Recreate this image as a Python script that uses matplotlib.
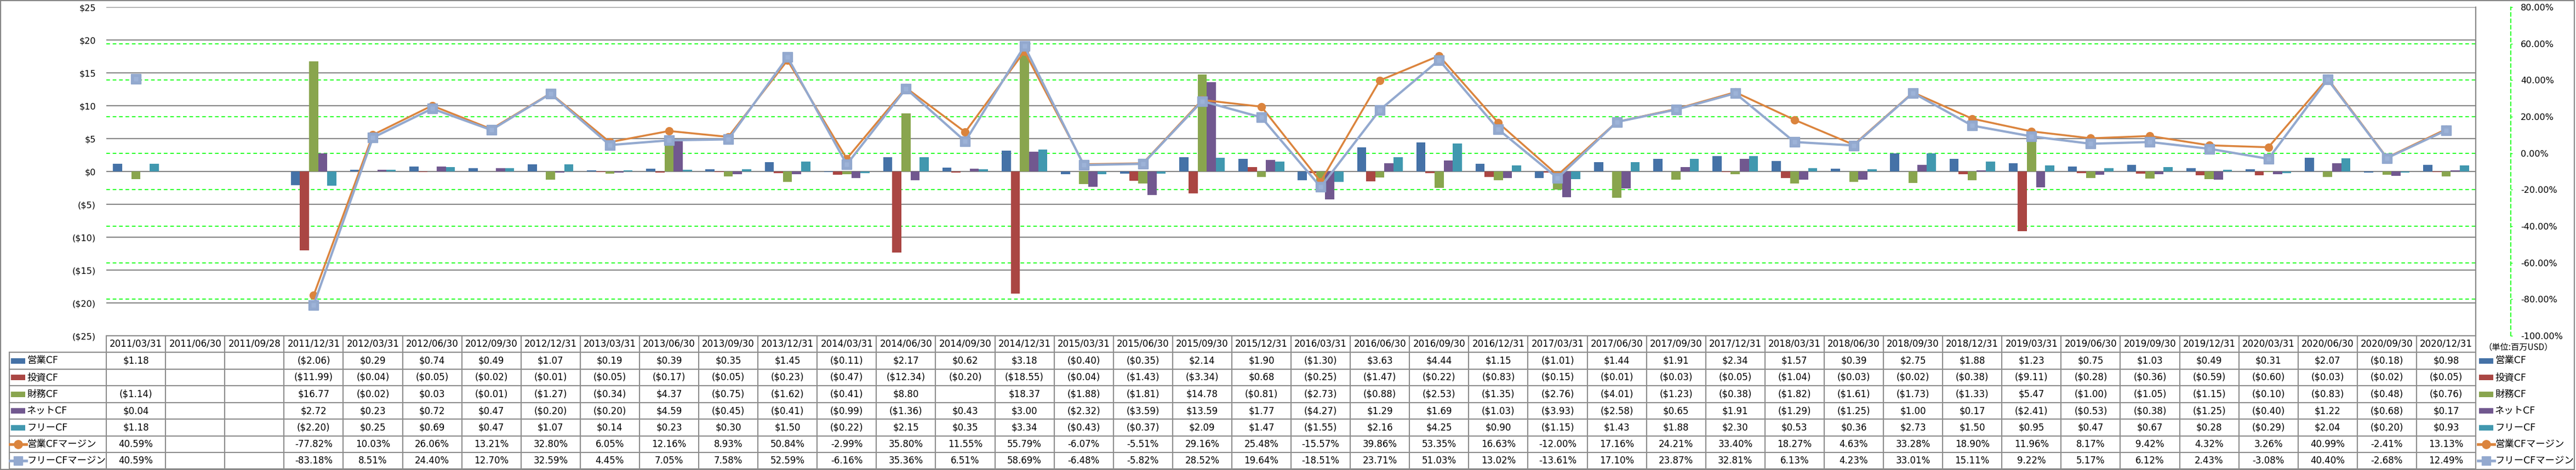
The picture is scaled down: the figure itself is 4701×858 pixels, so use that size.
import numpy as np
import matplotlib
matplotlib.use('Agg')
import matplotlib.pyplot as plt
import matplotlib.transforms as mtransforms
from matplotlib.lines import Line2D
from matplotlib.patches import Rectangle

plt.rcParams['font.family'] = ['DejaVu Sans', 'Noto Sans CJK JP']

nan = np.nan

# quarter-end dates (table header)
dates = ['2011/03/31', '2011/06/30', '2011/09/28', '2011/12/31', '2012/03/31', '2012/06/30',
         '2012/09/30', '2012/12/31', '2013/03/31', '2013/06/30', '2013/09/30', '2013/12/31',
         '2014/03/31', '2014/06/30', '2014/09/30', '2014/12/31', '2015/03/31', '2015/06/30',
         '2015/09/30', '2015/12/31', '2016/03/31', '2016/06/30', '2016/09/30', '2016/12/31',
         '2017/03/31', '2017/06/30', '2017/09/30', '2017/12/31', '2018/03/31', '2018/06/30',
         '2018/09/30', '2018/12/31', '2019/03/31', '2019/06/30', '2019/09/30', '2019/12/31',
         '2020/03/31', '2020/06/30', '2020/09/30', '2020/12/31']

# cash flows, millions USD
op_cf = [1.18, nan, nan, -2.06, 0.29, 0.74, 0.49, 1.07, 0.19, 0.39, 0.35, 1.45, -0.11, 2.17,
         0.62, 3.18, -0.40, -0.35, 2.14, 1.90, -1.30, 3.63, 4.44, 1.15, -1.01, 1.44, 1.91, 2.34,
         1.57, 0.39, 2.75, 1.88, 1.23, 0.75, 1.03, 0.49, 0.31, 2.07, -0.18, 0.98]
inv_cf = [nan, nan, nan, -11.99, -0.04, -0.05, -0.02, -0.01, -0.05, -0.17, -0.05, -0.23, -0.47,
          -12.34, -0.20, -18.55, -0.04, -1.43, -3.34, 0.68, -0.25, -1.47, -0.22, -0.83, -0.15,
          -0.01, -0.03, -0.05, -1.04, -0.03, -0.02, -0.38, -9.11, -0.28, -0.36, -0.59, -0.60,
          -0.03, -0.02, -0.05]
fin_cf = [-1.14, nan, nan, 16.77, -0.02, 0.03, -0.01, -1.27, -0.34, 4.37, -0.75, -1.62, -0.41,
          8.80, nan, 18.37, -1.88, -1.81, 14.78, -0.81, -2.73, -0.88, -2.53, -1.35, -2.76, -4.01,
          -1.23, -0.38, -1.82, -1.61, -1.73, -1.33, 5.47, -1.00, -1.05, -1.15, -0.10, -0.83,
          -0.48, -0.76]
net_cf = [0.04, nan, nan, 2.72, 0.23, 0.72, 0.47, -0.20, -0.20, 4.59, -0.45, -0.41, -0.99,
          -1.36, 0.43, 3.00, -2.32, -3.59, 13.59, 1.77, -4.27, 1.29, 1.69, -1.03, -3.93, -2.58,
          0.65, 1.91, -1.29, -1.25, 1.00, 0.17, -2.41, -0.53, -0.38, -1.25, -0.40, 1.22, -0.68,
          0.17]
free_cf = [1.18, nan, nan, -2.20, 0.25, 0.69, 0.47, 1.07, 0.14, 0.23, 0.30, 1.50, -0.22, 2.15,
           0.35, 3.34, -0.43, -0.37, 2.09, 1.47, -1.55, 2.16, 4.25, 0.90, -1.15, 1.43, 1.88, 2.30,
           0.53, 0.36, 2.73, 1.50, 0.95, 0.47, 0.67, 0.28, -0.29, 2.04, -0.20, 0.93]

# margins, %
op_margin = [40.59, nan, nan, -77.82, 10.03, 26.06, 13.21, 32.80, 6.05, 12.16, 8.93, 50.84,
             -2.99, 35.80, 11.55, 55.79, -6.07, -5.51, 29.16, 25.48, -15.57, 39.86, 53.35, 16.63,
             -12.00, 17.16, 24.21, 33.40, 18.27, 4.63, 33.28, 18.90, 11.96, 8.17, 9.42, 4.32,
             3.26, 40.99, -2.41, 13.13]
free_margin = [40.59, nan, nan, -83.18, 8.51, 24.40, 12.70, 32.59, 4.45, 7.05, 7.58, 52.59,
               -6.16, 35.36, 6.51, 58.69, -6.48, -5.82, 28.52, 19.64, -18.51, 23.71, 51.03, 13.02,
               -13.61, 17.10, 23.87, 32.81, 6.13, 4.23, 33.01, 15.11, 9.22, 5.17, 6.12, 2.43,
               -3.08, 40.40, -2.68, 12.49]

bar_names = ['営業CF', '投資CF', '財務CF', 'ネットCF', 'フリーCF']
bar_series = [op_cf, inv_cf, fin_cf, net_cf, free_cf]
bar_colors = ['#4572A7', '#AA4643', '#89A54E', '#71588F', '#4198AF']
line_names = ['営業CFマージン', 'フリーCFマージン']
line_series = [op_margin, free_margin]

usd_ticks = list(range(-25, 26, 5))
pct_ticks = list(range(-100, 81, 20))

W, H = 4701, 858
GRID = '#868686'
LIME = '#00FF00'


def fx(px):
    return px / W


def fy(py):
    return 1 - py / H


def fmt_usd(v):
    if np.isnan(v):
        return ''
    return f'${v:.2f}' if v >= 0 else f'(${-v:.2f})'


def fmt_pct(v):
    if np.isnan(v):
        return ''
    return f'{v:.2f}%'


fig = plt.figure(figsize=(W / 100, H / 100), dpi=100)
fig.patch.set_facecolor('white')

# plot area in pixels
L, R, T, B = 194, 4518, 13, 613
rect = [fx(L), fy(B), fx(R - L), (B - T) / H]

# background axis only for the green % gridlines (so bars sit above them)
ax_bg = fig.add_axes(rect, zorder=0)
ax_bg.set_xlim(-0.5, 39.5)
ax_bg.set_ylim(-100, 80)
ax_bg.set_yticks(pct_ticks[1:-1])
ax_bg.grid(axis='y', color=LIME, linestyle=(0, (4, 3)), linewidth=1.2)
ax_bg.tick_params(left=False, bottom=False, labelleft=False, labelbottom=False)
for s in ax_bg.spines.values():
    s.set_visible(False)

# bars on the USD axis
ax = fig.add_axes(rect, zorder=1)
ax.patch.set_visible(False)
x = np.arange(len(dates))
bw = 0.154
for k, (vals, color) in enumerate(zip(bar_series, bar_colors)):
    ax.bar(x + (k - 2) * bw, np.array(vals, dtype=float), width=bw, color=color, linewidth=0)

ax.set_xlim(-0.5, len(dates) - 0.5)
ax.set_ylim(-25, 25)
ax.set_axisbelow(True)
ax.grid(axis='y', color=GRID, linewidth=1.5)
ax.set_xticks([])
ax.yaxis.tick_right()
ax.set_yticks(usd_ticks, labels=[f'${v}' if v >= 0 else f'(${-v})' for v in usd_ticks])
ax.tick_params(axis='y', length=0, pad=13.7, labelsize=11.5)
for lab, v in zip(ax.get_yticklabels(), usd_ticks):
    lab.set_color('black' if v >= 0 else 'red')
for name, s in ax.spines.items():
    s.set_visible(name == 'right')
ax.spines['right'].set_color(GRID)
ax.spines['right'].set_linewidth(1.5)

# margin lines on the % axis
ax2 = ax.twinx()
ax2.set_zorder(2)
ax2.patch.set_visible(False)
ax2.plot(x, np.array(op_margin, dtype=float), color='#DB843D', lw=2.5,
         marker='o', ms=10, mfc='#DB843D', mec='#DB843D')
ax2.plot(x, np.array(free_margin, dtype=float), color='#93A9CF', lw=3,
         marker='s', ms=12.5, mfc='#93A9CF', mec='#8EA5CC')
ax2.plot(x, np.array(free_margin, dtype=float), ls='none',
         marker='s', ms=6, mfc='#9DB3D8', mec='none')
ax2.set_ylim(-100, 80)
ax2.set_xlim(-0.5, len(dates) - 0.5)
ax2.set_yticks(pct_ticks, labels=[f'{v:.2f}%' for v in pct_ticks])
for lab, v in zip(ax2.get_yticklabels(), pct_ticks):
    lab.set_color('black' if v >= 0 else 'red')
for name, s in ax2.spines.items():
    s.set_visible(name == 'right')
ax2.spines['right'].set_position(('axes', (4582 - L) / (R - L)))
ax2.spines['right'].set_color(LIME)
ax2.spines['right'].set_linestyle((0, (4, 3)))
ax2.spines['right'].set_linewidth(1.2)
ax2.tick_params(axis='y', direction='out', length=2.2, width=1, color=LIME,
                pad=10.8, labelsize=11.5)

# ---- data table below the chart ----
trans = mtransforms.blended_transform_factory(ax.transData, fig.transFigure)
row_edges = [613, 643, 674, 704, 735, 765, 796, 826, 856]
TBL = '#8C8C8C'

fig.add_artist(Line2D([fx(L), fx(R)], [fy(613), fy(613)], transform=fig.transFigure,
                      color=TBL, lw=1.5))
for yy in row_edges[1:]:
    fig.add_artist(Line2D([fx(17), fx(R)], [fy(yy), fy(yy)], transform=fig.transFigure,
                          color=TBL, lw=1.5))
fig.add_artist(Line2D([fx(17), fx(17)], [fy(643), fy(856)], transform=fig.transFigure,
                      color=TBL, lw=1.5))
for i in range(len(dates) + 1):
    fig.add_artist(Line2D([i - 0.5, i - 0.5], [fy(613), fy(856)], transform=trans,
                          color=TBL, lw=1.5))

centers = [(row_edges[j] + row_edges[j + 1]) / 2 for j in range(len(row_edges) - 1)]
for i, d in enumerate(dates):
    fig.text(i, fy(centers[0]), d, transform=trans, ha='center', va='center', fontsize=12)

table_rows = [[fmt_usd(v) for v in s] for s in bar_series] + \
             [[fmt_pct(v) for v in s] for s in line_series]
for j, row in enumerate(table_rows):
    for i, txt in enumerate(row):
        if txt:
            fig.text(i, fy(centers[j + 1]), txt, transform=trans, ha='center', va='center',
                     fontsize=12)


def legend_key(x0, yc, j):
    # draw one legend swatch at pixel position
    if j < len(bar_names):
        fig.add_artist(Rectangle((fx(x0), fy(yc + 5)), 26 / W, 10 / H, transform=fig.transFigure,
                                 facecolor=bar_colors[j], edgecolor='none'))
    else:
        k = j - len(bar_names)
        col = '#DB843D' if k == 0 else '#93A9CF'
        mk = 'o' if k == 0 else 's'
        fig.add_artist(Line2D([fx(x0 - 2), fx(x0 + 28)], [fy(yc), fy(yc)], transform=fig.transFigure,
                              color=col, lw=3.5))
        fig.add_artist(Line2D([fx(x0 + 13)], [fy(yc)], transform=fig.transFigure, color=col,
                              marker=mk, ms=11, mfc=col, mec=col, ls='none'))


all_names = bar_names + line_names
for j, name in enumerate(all_names):
    yc = centers[j + 1]
    legend_key(20, yc, j)
    fig.text(fx(49), fy(yc), name, ha='left', va='center', fontsize=12.5)
    legend_key(4524, yc, j)
    fig.text(fx(4553), fy(yc), name, ha='left', va='center', fontsize=12.5)

fig.text(fx(4532), fy(centers[0] + 6), '（単位:百万USD）', ha='left', va='center', fontsize=11,
         family=['Noto Sans CJK JP', 'DejaVu Sans'])

# outer chart border
fig.add_artist(Rectangle((fx(1), fy(857)), fx(4697), 856 / H, transform=fig.transFigure,
                         fill=False, edgecolor=GRID, lw=1.5))

fig.savefig('out.png', dpi=100, facecolor='white')
